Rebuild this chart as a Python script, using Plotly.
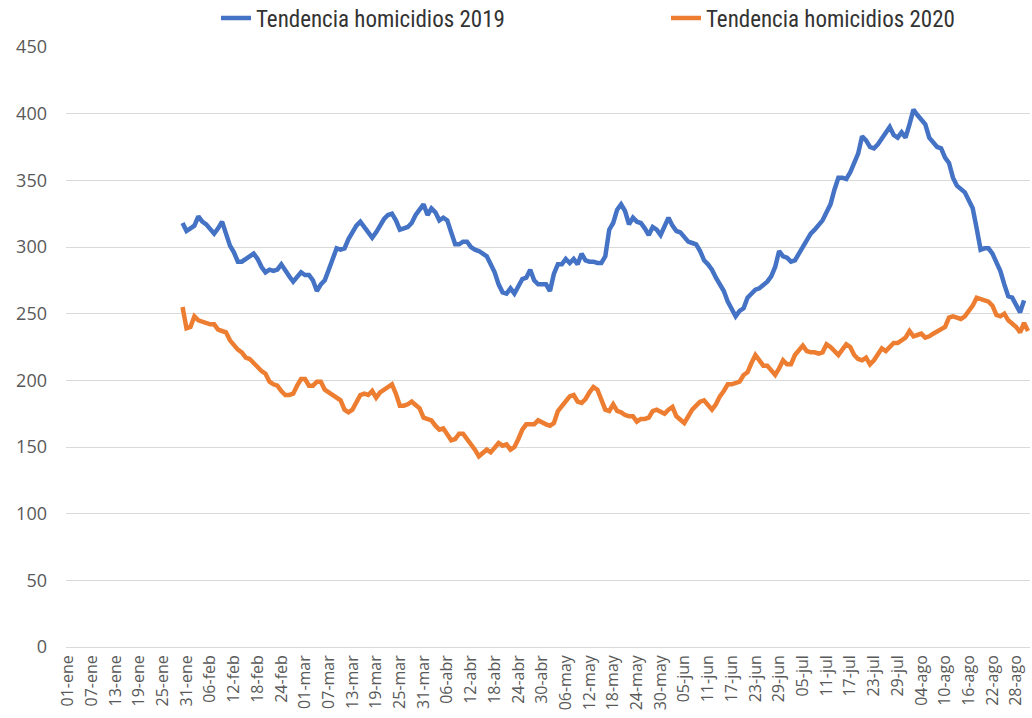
import plotly.graph_objects as go

# Day index 0 = 01-ene; both series start on day 29 (30-ene)
start_day = 29

homicidios_2019 = [
    318, 312, 314, 316, 323, 319, 317, 314, 310, 314,   # 29-38
    319, 310, 301, 296, 289, 289, 291, 292, 295, 291,   # 39-48
    285, 281, 283, 282, 283, 287, 282, 278, 274, 278,   # 49-58
    281, 279, 279, 275, 267, 272, 275, 283, 292, 299,   # 59-68
    298, 299, 306, 311, 316, 319, 315, 310, 307, 311,   # 69-78
    316, 321, 324, 325, 320, 313, 314, 315, 318, 324,   # 79-88
    328, 332, 324, 329, 326, 320, 322, 320, 311, 302,   # 89-98
    302, 304, 304, 300, 298, 297, 295, 293, 287, 281,   # 99-108
    272, 266, 265, 269, 265, 271, 276, 277, 283, 275,   # 109-118
    272, 272, 272, 267, 280, 287, 287, 291, 288, 291,   # 119-128
    287, 295, 290, 289, 289, 288, 288, 293, 313, 318,   # 129-138
    328, 332, 327, 317, 322, 319, 318, 314, 309, 315,   # 139-148
    313, 309, 315, 322, 316, 312, 311, 308, 304, 303,   # 149-158
    302, 297, 290, 287, 283, 277, 272, 267, 259, 254,   # 159-168
    248, 252, 254, 262, 265, 268, 269, 271, 274, 278,   # 169-178
    285, 297, 293, 292, 289, 290, 295, 299, 305, 310,   # 179-188
    313, 316, 320, 326, 332, 343, 352, 352, 351, 356,   # 189-198
    363, 370, 383, 380, 375, 374, 377, 381, 385, 390,   # 199-208
    384, 382, 386, 382, 392, 403, 399, 395, 392, 382,   # 209-218
    378, 375, 374, 367, 363, 352, 346, 344, 341, 335,   # 219-228
    329, 314, 298, 299, 299, 295, 289, 282, 272, 263,   # 229-238
    262, 257, 251, 260,                                 # 239-242
]

homicidios_2020 = [
    255, 239, 240, 248, 245, 244, 243, 242, 242, 238,   # 29-38
    237, 236, 230, 226, 223, 221, 217, 216, 213, 209,   # 39-48
    207, 205, 199, 197, 196, 192, 189, 189, 190, 196,   # 49-58
    201, 201, 196, 196, 199, 199, 193, 191, 189, 186,   # 59-68
    185, 178, 176, 178, 184, 189, 190, 189, 192, 187,   # 69-78
    191, 193, 195, 197, 190, 181, 181, 182, 184, 182,   # 79-88
    179, 172, 171, 170, 166, 163, 164, 160, 155, 156,   # 89-98
    160, 160, 156, 153, 148, 143, 146, 148, 146, 150,   # 99-108
    153, 151, 152, 148, 150, 156, 163, 167, 167, 167,   # 109-118
    170, 168, 167, 166, 168, 177, 181, 185, 188, 189,   # 119-128
    184, 183, 186, 191, 195, 193, 185, 178, 177, 182,   # 129-138
    177, 176, 174, 173, 173, 169, 171, 171, 172, 177,   # 139-148
    178, 176, 175, 178, 180, 173, 171, 168, 173, 178,   # 149-158
    181, 184, 185, 181, 178, 182, 188, 192, 197, 197,   # 159-168
    198, 199, 204, 206, 213, 219, 215, 211, 211, 208,   # 169-178
    204, 209, 215, 212, 212, 219, 223, 226, 222, 221,   # 179-188
    221, 220, 221, 227, 225, 222, 219, 223, 227, 225,   # 189-198
    219, 216, 215, 217, 212, 215, 220, 224, 222, 225,   # 199-208
    228, 228, 230, 232, 237, 233, 234, 235, 232, 233,   # 209-218
    235, 237, 238, 240, 247, 248, 247, 246, 248, 252,   # 219-228
    256, 262, 261, 260, 259, 256, 249, 248, 250, 245,   # 229-238
    243, 240, 236, 243, 237,                            # 239-243
]

tick_days = list(range(0, 241, 6))
tick_labels = [
    "01-ene", "07-ene", "13-ene", "19-ene", "25-ene", "31-ene",
    "06-feb", "12-feb", "18-feb", "24-feb",
    "01-mar", "07-mar", "13-mar", "19-mar", "25-mar", "31-mar",
    "06-abr", "12-abr", "18-abr", "24-abr", "30-abr",
    "06-may", "12-may", "18-may", "24-may", "30-may",
    "05-jun", "11-jun", "17-jun", "23-jun", "29-jun",
    "05-jul", "11-jul", "17-jul", "23-jul", "29-jul",
    "04-ago", "10-ago", "16-ago", "22-ago", "28-ago",
]
series_names = ["Tendencia homicidios 2019", "Tendencia homicidios 2020"]
series_colors = ["#4472C4", "#ED7D31"]
legend_ids = ["legend", "legend2"]

fig = go.Figure()
for name, vals, col, lg in zip(series_names, [homicidios_2019, homicidios_2020],
                               series_colors, legend_ids):
    fig.add_trace(go.Scatter(
        x=list(range(start_day, start_day + len(vals))),
        y=vals,
        mode="lines",
        name=name,
        legend=lg,
        line=dict(color=col, width=4.5),
    ))

legend_font = dict(family="Liberation Sans Narrow, Roboto Condensed, DejaVu Sans Condensed, Arial Narrow, sans-serif",
                   size=23, color="#333333")

fig.update_layout(
    width=1032, height=718,
    margin=dict(l=66, r=2, t=47, b=71, autoexpand=False),
    paper_bgcolor="white", plot_bgcolor="white",
    font=dict(family="Open Sans, Arial, sans-serif", color="#595959"),
    showlegend=True,
    legend=dict(
        orientation="h", xref="container", yref="container",
        x=216 / 1032, y=1 - 18 / 718, xanchor="left", yanchor="middle",
        font=legend_font, bgcolor="rgba(0,0,0,0)",
    ),
    legend2=dict(
        orientation="h", xref="container", yref="container",
        x=666 / 1032, y=1 - 18 / 718, xanchor="left", yanchor="middle",
        font=legend_font, bgcolor="rgba(0,0,0,0)",
    ),
    xaxis=dict(
        range=[-0.5, 243.5], automargin=False,
        tickmode="array", tickvals=tick_days, ticktext=tick_labels,
        tickangle=-90, tickfont=dict(size=16, color="#595959"),
        showgrid=False, zeroline=False, showline=False,
        ticks="", ticklabelstandoff=4,
    ),
    yaxis=dict(
        range=[0, 450], dtick=50, tick0=0, automargin=False,
        showgrid=True, gridcolor="#d9d9d9", gridwidth=1,
        zeroline=True, zerolinecolor="#d9d9d9", zerolinewidth=1,
        tickfont=dict(size=18, color="#595959"),
        showline=False, ticks="", ticklabelstandoff=18,
    ),
)

fig.write_html("out.html", config={"displayModeBar": False},
               post_script="document.body.style.margin='0px';")
